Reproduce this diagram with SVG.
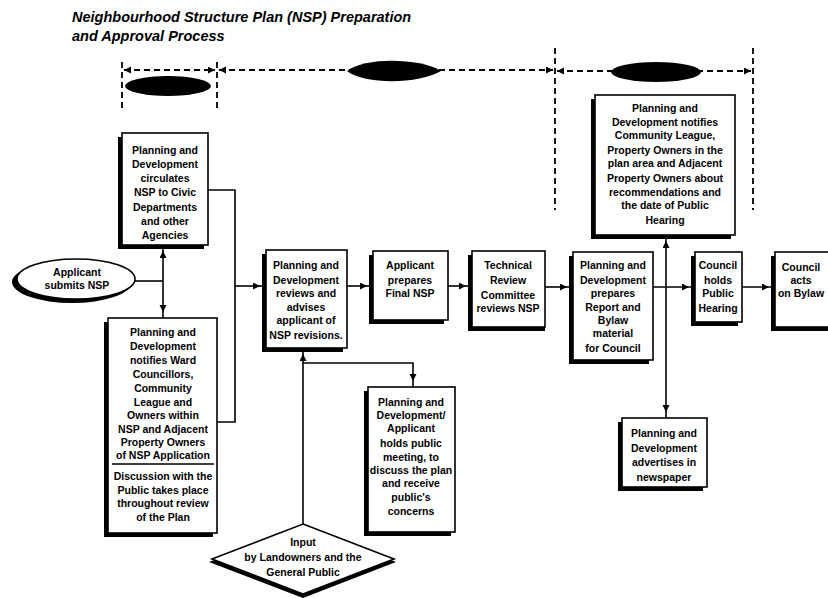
<svg xmlns="http://www.w3.org/2000/svg" width="828" height="598" viewBox="0 0 828 598">
  <style>
    .title { font-family: "Liberation Sans", Arial, sans-serif; font-weight: bold; font-style: italic; font-size: 14.5px; fill: #000; }
    .t { font-family: "Liberation Sans", Arial, sans-serif; font-weight: bold; font-size: 10.5px; fill: #000; text-anchor: middle; }
    .box { fill: #fff; stroke: #000; stroke-width: 1.6; }
    .shadow { fill: #000; }
    .link { fill: none; stroke: #000; stroke-width: 1.6; }
    .dash { fill: none; stroke: #000; stroke-width: 1.8; stroke-dasharray: 6 4; }
    .phase { fill: #000; }
  </style>
  <defs>
    <!-- arrowhead set a few pixels back from the line end -->
    <marker id="arr" markerUnits="userSpaceOnUse" markerWidth="20" markerHeight="10" refX="13" refY="3.5" orient="auto">
      <path d="M0,0 L7,3.5 L0,7 Z" fill="#000"/>
    </marker>
    <!-- arrowhead for timeline spans, tip at the end -->
    <marker id="span" markerUnits="userSpaceOnUse" markerWidth="10" markerHeight="10" refX="7" refY="3.5" orient="auto-start-reverse">
      <path d="M0,0 L7,3.5 L0,7 Z" fill="#000"/>
    </marker>
  </defs>

  <!-- title -->
  <text class="title" x="72" y="22">Neighbourhood Structure Plan (NSP) Preparation</text>
  <text class="title" x="72" y="41">and Approval Process</text>

  <!-- phase timeline -->
  <g id="timeline">
    <path class="dash" d="M122,62 V112"/>
    <path class="dash" d="M217,62 V112"/>
    <path class="dash" d="M555,48 V210"/>
    <path class="dash" d="M753,48 V210"/>
    <path class="dash" d="M124,70 H215" marker-start="url(#span)" marker-end="url(#span)"/>
    <path class="dash" d="M219,70 H553" marker-start="url(#span)" marker-end="url(#span)"/>
    <path class="dash" d="M557,71 H751" marker-start="url(#span)" marker-end="url(#span)"/>
    <ellipse class="phase" cx="168" cy="86" rx="43" ry="10"/>
    <path class="phase" d="M347,71 C365,57 420,58 441,71 C420,84 365,85 347,71 Z"/>
    <ellipse class="phase" cx="656" cy="72" rx="45" ry="10"/>
  </g>

  <!-- connectors -->
  <g id="connectors">
    <path class="link" d="M135,281 H163"/>
    <path class="link" d="M163,281 V245" marker-end="url(#arr)"/>
    <path class="link" d="M163,281 V318" marker-end="url(#arr)"/>
    <path class="link" d="M208,190 H235 V422 H217"/>
    <path class="link" d="M235,286 H266" marker-end="url(#arr)"/>
    <path class="link" d="M347,286 H373" marker-end="url(#arr)"/>
    <path class="link" d="M448,286 H472" marker-end="url(#arr)"/>
    <path class="link" d="M545,287 H573" marker-end="url(#arr)"/>
    <path class="link" d="M653,287 H695" marker-end="url(#arr)"/>
    <path class="link" d="M742,287 H775" marker-end="url(#arr)"/>
    <path class="link" d="M666,287 V235" marker-end="url(#arr)"/>
    <path class="link" d="M666,287 V418" marker-end="url(#arr)"/>
    <path class="link" d="M303,524 V348" marker-end="url(#arr)"/>
    <path class="link" d="M303,363 H413 V387" marker-end="url(#arr)"/>
  </g>

  <!-- Applicant submits NSP -->
  <g id="n-submit">
    <ellipse class="shadow" cx="72" cy="282" rx="60" ry="21"/>
    <ellipse class="box" cx="76" cy="279" rx="59" ry="20"/>
    <text class="t" x="77" y="276">Applicant</text>
    <text class="t" x="77" y="289">submits NSP</text>
  </g>

  <!-- circulates NSP -->
  <g id="n-circulate">
    <rect class="shadow" x="118" y="137" width="86" height="112"/>
    <rect class="box" x="122" y="133" width="86" height="112"/>
    <text class="t" x="165" y="154">Planning and</text>
    <text class="t" x="165" y="168">Development</text>
    <text class="t" x="165" y="182">circulates</text>
    <text class="t" x="165" y="196">NSP to Civic</text>
    <text class="t" x="165" y="211">Departments</text>
    <text class="t" x="165" y="225">and other</text>
    <text class="t" x="165" y="239">Agencies</text>
  </g>

  <!-- notifies Ward Councillors -->
  <g id="n-notify-ward">
    <rect class="shadow" x="104" y="322" width="109" height="215"/>
    <rect class="box" x="108" y="318" width="109" height="215"/>
    <text class="t" x="163" y="336">Planning and</text>
    <text class="t" x="163" y="350">Development</text>
    <text class="t" x="163" y="364">notifies Ward</text>
    <text class="t" x="163" y="378">Councillors,</text>
    <text class="t" x="163" y="392">Community</text>
    <text class="t" x="163" y="406">League and</text>
    <text class="t" x="163" y="419">Owners within</text>
    <text class="t" x="163" y="433">NSP and Adjacent</text>
    <text class="t" x="163" y="446">Property Owners</text>
    <text class="t" x="163" y="459">of NSP Application</text>
    <line x1="112" y1="464" x2="214" y2="464" stroke="#000" stroke-width="1.4"/>
    <text class="t" x="163" y="480">Discussion with the</text>
    <text class="t" x="163" y="494">Public takes place</text>
    <text class="t" x="163" y="507">throughout review</text>
    <text class="t" x="163" y="521">of the Plan</text>
  </g>

  <!-- reviews and advises -->
  <g id="n-review">
    <rect class="shadow" x="262" y="254" width="81" height="98"/>
    <rect class="box" x="266" y="250" width="81" height="98"/>
    <text class="t" x="306" y="269">Planning and</text>
    <text class="t" x="306" y="284">Development</text>
    <text class="t" x="306" y="297">reviews and</text>
    <text class="t" x="306" y="311">advises</text>
    <text class="t" x="306" y="324">applicant of</text>
    <text class="t" x="306" y="339">NSP revisions.</text>
  </g>

  <!-- Applicant prepares Final NSP -->
  <g id="n-final">
    <rect class="shadow" x="369" y="255" width="75" height="69"/>
    <rect class="box" x="373" y="251" width="75" height="69"/>
    <text class="t" x="410" y="269">Applicant</text>
    <text class="t" x="410" y="284">prepares</text>
    <text class="t" x="410" y="297">Final NSP</text>
  </g>

  <!-- Technical Review Committee -->
  <g id="n-trc">
    <rect class="shadow" x="468" y="255" width="77" height="76"/>
    <rect class="box" x="472" y="251" width="73" height="76"/>
    <text class="t" x="508" y="269">Technical</text>
    <text class="t" x="508" y="284">Review</text>
    <text class="t" x="508" y="299">Committee</text>
    <text class="t" x="508" y="312">reviews NSP</text>
  </g>

  <!-- Report and Bylaw -->
  <g id="n-report">
    <rect class="shadow" x="569" y="256" width="80" height="108"/>
    <rect class="box" x="573" y="252" width="80" height="108"/>
    <text class="t" x="613" y="269">Planning and</text>
    <text class="t" x="613" y="284">Development</text>
    <text class="t" x="613" y="297">prepares</text>
    <text class="t" x="613" y="311">Report and</text>
    <text class="t" x="613" y="324">Bylaw</text>
    <text class="t" x="613" y="337">material</text>
    <text class="t" x="613" y="352">for Council</text>
  </g>

  <!-- notifies Community League -->
  <g id="n-notify-league">
    <rect class="shadow" x="591" y="99" width="140" height="140"/>
    <rect class="box" x="595" y="95" width="140" height="140"/>
    <text class="t" x="665" y="112">Planning and</text>
    <text class="t" x="665" y="126">Development notifies</text>
    <text class="t" x="665" y="139">Community League,</text>
    <text class="t" x="665" y="154">Property Owners in the</text>
    <text class="t" x="665" y="167">plan area and Adjacent</text>
    <text class="t" x="665" y="182">Property Owners about</text>
    <text class="t" x="665" y="196">recommendations and</text>
    <text class="t" x="665" y="209">the date of Public</text>
    <text class="t" x="665" y="224">Hearing</text>
  </g>

  <!-- Public Hearing -->
  <g id="n-hearing">
    <rect class="shadow" x="691" y="256" width="47" height="70"/>
    <rect class="box" x="695" y="252" width="47" height="70"/>
    <text class="t" x="718" y="269">Council</text>
    <text class="t" x="718" y="284">holds</text>
    <text class="t" x="718" y="297">Public</text>
    <text class="t" x="718" y="312">Hearing</text>
  </g>

  <!-- Council acts on Bylaw -->
  <g id="n-bylaw">
    <rect class="shadow" x="771" y="256" width="64" height="75"/>
    <rect class="box" x="775" y="252" width="64" height="75"/>
    <text class="t" x="801" y="271">Council</text>
    <text class="t" x="801" y="284">acts</text>
    <text class="t" x="801" y="297">on Bylaw</text>
  </g>

  <!-- public meeting -->
  <g id="n-meeting">
    <rect class="shadow" x="364" y="391" width="87" height="145"/>
    <rect class="box" x="368" y="387" width="87" height="145"/>
    <text class="t" x="411" y="406">Planning and</text>
    <text class="t" x="411" y="419">Development/</text>
    <text class="t" x="411" y="432">Applicant</text>
    <text class="t" x="411" y="447">holds public</text>
    <text class="t" x="411" y="461">meeting, to</text>
    <text class="t" x="411" y="474">discuss the plan</text>
    <text class="t" x="411" y="487">and receive</text>
    <text class="t" x="411" y="501">public's</text>
    <text class="t" x="411" y="515">concerns</text>
  </g>

  <!-- advertises in newspaper -->
  <g id="n-advertise">
    <rect class="shadow" x="618" y="422" width="85" height="69"/>
    <rect class="box" x="622" y="418" width="85" height="69"/>
    <text class="t" x="664" y="437">Planning and</text>
    <text class="t" x="664" y="452">Development</text>
    <text class="t" x="664" y="466">advertises in</text>
    <text class="t" x="664" y="481">newspaper</text>
  </g>

  <!-- Input diamond -->
  <g id="n-input">
    <path class="shadow" d="M303,527 L396,562 L303,598 L209,562 Z"/>
    <path class="box" d="M303,524 L394,559 L303,594 L212,559 Z"/>
    <text class="t" x="303" y="546">Input</text>
    <text class="t" x="303" y="561">by Landowners and the</text>
    <text class="t" x="303" y="576">General Public</text>
  </g>
</svg>
